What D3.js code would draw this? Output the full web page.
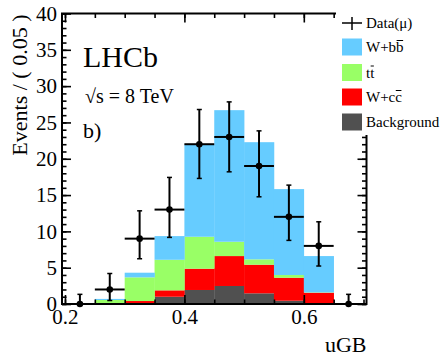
<!DOCTYPE html>
<html>
<head>
<meta charset="utf-8">
<script src="https://cdn.jsdelivr.net/npm/d3@7"></script>
<style>
  html, body { margin: 0; padding: 0; background: #fff; }
  svg { display: block; }
  text { font-family: "Liberation Serif", "Times New Roman", serif; }
</style>
</head>
<body>
<script>
// ---- data ----
const binEdges   = [0.20, 0.25, 0.30, 0.35, 0.40, 0.45, 0.50, 0.55, 0.60, 0.65, 0.70];
const binCenters = [0.225, 0.275, 0.325, 0.375, 0.425, 0.475, 0.525, 0.575, 0.625, 0.675];

// stacked components (bottom to top)
const background = [0, 0,    0.05, 1.00, 1.93, 2.48, 1.47, 0.45, 0.05, 0];
const wcc        = [0, 0.03, 0.36, 0.88, 2.93, 4.12, 3.94, 3.17, 1.50, 0];
const ttbar      = [0, 0.52, 3.26, 4.21, 4.40, 1.97, 0.74, 0.37, 0.05, 0];
const wbb        = [0, 0.15, 0.64, 3.26, 12.71, 18.12, 16.13, 11.83, 5.00, 0];

// data points with asymmetric errors
const dataVals = [0, 2,    9,    13,   22,   23,   19,   12,   8,    0];
const errLow   = [0, 1.52, 2.77, 3.83, 4.71, 4.80, 4.24, 3.24, 2.77, 0];
const errHigh  = [1.33, 2.20, 3.83, 4.43, 4.78, 4.83, 4.84, 4.37, 3.32, 1.33];

const yMajorTicks = [0, 5, 10, 15, 20, 25, 30, 35, 40];
const xMajorTicks = [0.2, 0.4, 0.6];
const xMinorTicks = [0.2, 0.25, 0.3, 0.35, 0.4, 0.45, 0.5, 0.55, 0.6, 0.65, 0.7];

const seriesNames  = ["Background", "W+cc", "tt", "W+bb"];
const seriesColors = ["#505050", "#ff0000", "#99ff66", "#66ccff"];
const legendLabels = [
  {text: "Data(\u03bc)", type: "data"},
  {text: "W+bb", over: 3, color: "#66ccff"},
  {text: "tt", over: 1, color: "#99ff66"},
  {text: "W+cc", over: 3, color: "#ff0000"},
  {text: "Background", color: "#505050"}
];

// ---- layout ----
const W = 444, H = 356;
const L = 62, R = 366.5, T = 13.5, B = 304;

const svg = d3.select("body").append("svg").attr("width", W).attr("height", H);
svg.append("rect").attr("width", W).attr("height", H).attr("fill", "#fff");

const x = d3.scaleLinear().domain([0.195, 0.705]).range([L, R]);
const y = d3.scaleLinear().domain([0, 40]).range([B, T]);

// stacked histogram
const rows = binCenters.map((c, i) => ({
  i, lo: binEdges[i], hi: binEdges[i + 1],
  "Background": background[i], "W+cc": wcc[i], "tt": ttbar[i], "W+bb": wbb[i]
}));
const stack = d3.stack().keys(seriesNames)(rows);
stack.forEach((layer, k) => {
  svg.append("g").selectAll("rect").data(layer).join("rect")
    .attr("x", d => x(d.data.lo))
    .attr("width", d => x(d.data.hi) - x(d.data.lo) + 0.3)
    .attr("y", d => y(d[1]))
    .attr("height", d => Math.max(0, y(d[0]) - y(d[1])))
    .attr("fill", seriesColors[k]);
});

// axes (ticks inward)
const fontSize = 21;
function styleAxis(g) {
  g.select(".domain").remove();
  g.selectAll(".tick line").attr("stroke", "#000").attr("stroke-width", 1.6);
  g.selectAll(".tick text").attr("font-family", "Liberation Serif").attr("font-size", fontSize).attr("fill", "#000");
}
svg.append("g").attr("transform", `translate(${L},0)`)
  .call(d3.axisLeft(y).tickValues(yMajorTicks).tickSize(-9).tickPadding(5).tickFormat(d3.format("d")))
  .call(styleAxis);
svg.append("g").attr("transform", `translate(${L},0)`)
  .call(d3.axisLeft(y).tickValues(d3.range(0, 41, 1)).tickSize(-4.5).tickFormat(""))
  .call(styleAxis);
svg.append("g").attr("transform", `translate(${R},0)`)
  .call(d3.axisRight(y).tickValues(yMajorTicks).tickSize(-9).tickFormat(""))
  .call(styleAxis);
svg.append("g").attr("transform", `translate(${R},0)`)
  .call(d3.axisRight(y).tickValues(d3.range(0, 41, 1)).tickSize(-4.5).tickFormat(""))
  .call(styleAxis);
svg.append("g").attr("transform", `translate(0,${B})`)
  .call(d3.axisBottom(x).tickValues(xMajorTicks).tickSize(-9).tickPadding(5).tickFormat(d3.format(".1f")))
  .call(styleAxis);
svg.append("g").attr("transform", `translate(0,${B})`)
  .call(d3.axisBottom(x).tickValues(xMinorTicks).tickSize(-4.5).tickFormat(""))
  .call(styleAxis);
svg.append("g").attr("transform", `translate(0,${T})`)
  .call(d3.axisTop(x).tickValues(xMajorTicks).tickSize(-9).tickFormat(""))
  .call(styleAxis);
svg.append("g").attr("transform", `translate(0,${T})`)
  .call(d3.axisTop(x).tickValues(xMinorTicks).tickSize(-4.5).tickFormat(""))
  .call(styleAxis);

// data points
const pts = binCenters.map((c, i) => ({c, lo: binEdges[i], hi: binEdges[i + 1], v: dataVals[i], el: errLow[i], eh: errHigh[i]}));
const gd = svg.append("g");
pts.forEach(p => {
  gd.append("line").attr("x1", x(p.lo)).attr("x2", x(p.hi)).attr("y1", y(p.v)).attr("y2", y(p.v))
    .attr("stroke", "#000").attr("stroke-width", 2);
  gd.append("line").attr("x1", x(p.c)).attr("x2", x(p.c)).attr("y1", y(p.v - p.el)).attr("y2", y(p.v + p.eh))
    .attr("stroke", "#000").attr("stroke-width", 2);
  [p.v - p.el, p.v + p.eh].forEach(e => {
    gd.append("line").attr("x1", x(p.c) - 2.5).attr("x2", x(p.c) + 2.5).attr("y1", y(e)).attr("y2", y(e))
      .attr("stroke", "#000").attr("stroke-width", 1.5);
  });
  gd.append("circle").attr("cx", x(p.c)).attr("cy", y(p.v)).attr("r", 3.3).attr("fill", "#000");
});

// frame
svg.append("rect").attr("x", L).attr("y", T).attr("width", R - L).attr("height", B - T)
  .attr("fill", "none").attr("stroke", "#000").attr("stroke-width", 2);

// axis titles
svg.append("text").attr("x", R).attr("y", 352).attr("text-anchor", "end")
  .attr("font-size", 22).text("uGB");
svg.append("text").attr("transform", `translate(27,${T + 1}) rotate(-90)`).attr("text-anchor", "end")
  .attr("font-size", 22).text("Events / ( 0.05 )");

// annotations
svg.append("text").attr("x", 83).attr("y", 67).attr("font-size", 30).text("LHCb");
svg.append("text").attr("x", 85).attr("y", 103).attr("font-size", 20).text("\u221as = 8 TeV");
svg.append("text").attr("x", 83).attr("y", 138).attr("font-size", 22).text("b)");

// legend
svg.append("rect").attr("x", 336).attr("y", 0).attr("width", W - 336).attr("height", 135).attr("fill", "#fff");
const lg = svg.append("g");
const rowY = [23, 47, 72.5, 97, 122];
legendLabels.forEach((d, i) => {
  const cy = rowY[i];
  if (d.type === "data") {
    lg.append("line").attr("x1", 342).attr("x2", 362).attr("y1", cy).attr("y2", cy).attr("stroke", "#000").attr("stroke-width", 1.5);
    lg.append("line").attr("x1", 352).attr("x2", 352).attr("y1", cy - 6).attr("y2", cy + 7).attr("stroke", "#000").attr("stroke-width", 1.5);
  } else {
    lg.append("rect").attr("x", 342).attr("y", cy - 8.5).attr("width", 20).attr("height", 17).attr("fill", d.color);
  }
  const t = lg.append("text").attr("x", 366).attr("y", cy + 5).attr("font-size", 15).text(d.text);
  if (d.over !== undefined) {
    const node = t.node();
    const s = node.getStartPositionOfChar(d.over).x;
    const e = node.getEndPositionOfChar(d.over).x;
    lg.append("line").attr("x1", s + 0.5).attr("x2", e - 0.5).attr("y1", cy + 5 - 11.5).attr("y2", cy + 5 - 11.5)
      .attr("stroke", "#000").attr("stroke-width", 1);
  }
});
</script>
</body>
</html>
